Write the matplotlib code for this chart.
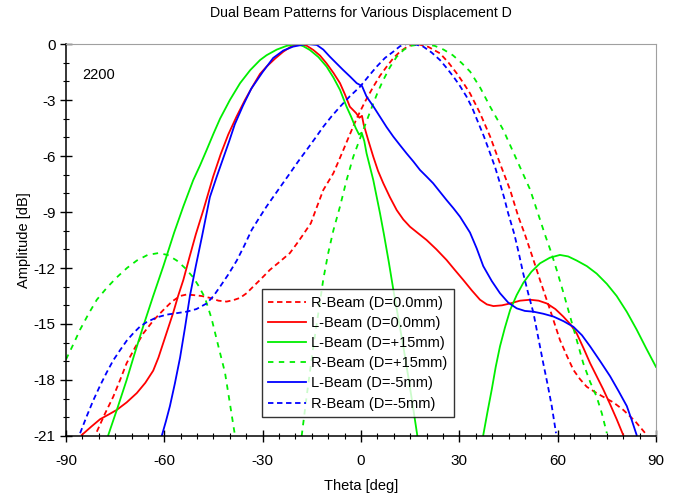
import numpy as np
import matplotlib
matplotlib.use("Agg")
import matplotlib.pyplot as plt
from matplotlib.ticker import MultipleLocator

plt.rcParams['font.family'] = ['Liberation Sans', 'DejaVu Sans']
plt.rcParams['axes.unicode_minus'] = False

nan = np.nan

# R-Beam (D=0.0mm), red dashed
r0_theta = [-80.6, -78.1, -75.6, -73.5, -71.5, -68.9, -66.4, -63.3, -60.3, -57.7,
            -55.2, -53.2, -51.2, -48.6, -46.1, -43.5, -41.0, -38.9, -36.9, -34.9,
            -32.9, -30.3, -27.8, -24.7, -21.7, -19.6, -18.0, -15.3, -13.4, -11.5,
            -8.45, -6.9, -5.4, -3.3, -1.3, 1.2, 3.75, 5.8, 7.85, 9.9,
            11.9, 14.5, 17.0, 20.5, 24.1, 26.7, 29.2, 31.2, 33.25, 36.3,
            39.4, 42.4, 45.5, 48.0, 50.0, 52.3, 54.6, 57.7, 60.7, 62.8,
            64.8, 66.8, 68.85, 71.4, 73.9, 77.0, 80.0, 83.6, 87.2]
r0_db = [-20.77, -19.8, -18.9, -18.0, -17.1, -16.25, -15.5, -14.8, -14.25, -13.8,
         -13.5, -13.42, -13.45, -13.5, -13.6, -13.75, -13.8, -13.72, -13.6, -13.35,
         -13.0, -12.55, -12.1, -11.65, -11.2, -10.7, -10.3, -9.6, -8.7, -7.82,
         -6.93, -6.3, -5.68, -4.8, -3.98, -3.1, -2.29, -1.7, -1.21, -0.75,
         -0.41, -0.1, 0.0, -0.15, -0.5, -1.0, -1.57, -2.08, -2.64, -3.7,
         -4.96, -6.4, -7.82, -9.25, -10.2, -11.4, -12.64, -14.25, -15.86, -16.7,
         -17.46, -17.95, -18.36, -18.65, -18.9, -19.2, -19.6, -20.2, -20.95]

# L-Beam (D=0.0mm), red solid
l0_theta = [-85.2, -82.3, -79.6, -77.0, -74.5, -71.5, -68.4, -65.8, -63.4, -61.8,
            -60.3, -58.8, -57.3, -55.8, -54.2, -52.3, -50.4, -48.1, -45.1, -42.8,
            -40.5, -38.0, -35.4, -33.0, -30.8, -28.8, -26.2, -23.7, -21.2, -18.6,
            -16.5, -14.55, -12.5, -10.5, -8.4, -6.4, -4.9, -3.4, -1.5, -0.5,
            0.3, 0.8, 2.2, 3.75, 5.2, 6.8, 8.8, 10.9, 12.9, 14.95,
            17.5, 20.0, 23.0, 26.1, 28.6, 31.2, 33.8, 36.3, 38.4, 40.4,
            43.0, 45.5, 48.5, 51.6, 54.2, 56.7, 59.3, 61.7, 63.8, 65.8,
            67.9, 69.9, 71.9, 73.9, 76.0, 78.0, 80.0]
l0_db = [-20.95, -20.5, -20.1, -19.85, -19.6, -19.2, -18.7, -18.15, -17.5, -16.8,
         -16.0, -15.2, -14.4, -13.5, -12.64, -11.4, -10.2, -8.9, -7.1, -5.9,
         -4.85, -3.9, -3.0, -2.25, -1.6, -1.21, -0.78, -0.41, -0.12, 0.0,
         -0.1, -0.32, -0.62, -1.04, -1.55, -2.1, -2.7, -3.36, -3.7, -3.95,
         -3.85, -4.3, -5.15, -6.04, -6.8, -7.46, -8.2, -8.9, -9.4, -9.79,
         -10.15, -10.5, -11.0, -11.57, -12.1, -12.64, -13.2, -13.7, -13.95, -14.04,
         -14.0, -13.9, -13.75, -13.7, -13.75, -13.9, -14.2, -14.6, -15.0, -15.5,
         -16.3, -17.1, -17.8, -18.5, -19.3, -20.1, -20.95]

# L-Beam (D=+15mm), green solid (main lobe, then right side lobe)
l15_theta = [-77.1, -74.3, -71.5, -69.0, -66.4, -63.4, -60.3, -57.0, -54.2, -51.2,
             -49.1, -47.1, -45.0, -43.0, -40.0, -36.9, -33.8, -30.8, -28.8, -25.7,
             -22.7, -19.6, -17.6, -15.6, -13.0, -10.5, -8.4, -6.4, -4.4, -3.0,
             -1.6, -0.6, 0.2, 1.0, 1.7, 3.75, 5.8, 7.0, 8.5, 9.9,
             11.4, 12.9, 14.5, 16.0, 17.2, nan,
             37.3, 38.6, 39.9, 41.1, 42.4, 43.9, 45.5, 47.5, 49.5, 52.0,
             54.6, 57.6, 60.7, 63.2, 65.8, 68.9, 71.9, 75.0, 78.0, 81.1,
             84.1, 87.0, 90.0]
l15_db = [-20.95, -19.5, -18.0, -16.55, -15.1, -13.5, -11.9, -10.1, -8.7, -7.3,
          -6.5, -5.68, -4.8, -4.0, -3.0, -2.1, -1.4, -0.86, -0.6, -0.3,
          -0.1, 0.0, -0.12, -0.32, -0.7, -1.21, -1.8, -2.46, -3.36, -3.9,
          -4.5, -4.85, -4.75, -5.2, -5.86, -7.29, -9.07, -10.2, -11.7, -13.2,
          -14.7, -16.2, -17.9, -19.6, -21.0, nan,
          -20.95, -19.7, -18.5, -17.3, -16.2, -15.2, -14.25, -13.45, -12.8, -12.2,
          -11.75, -11.45, -11.3, -11.38, -11.6, -11.9, -12.3, -12.85, -13.5, -14.35,
          -15.3, -16.3, -17.3]

# R-Beam (D=+15mm), green dashed (left side lobe, then main lobe)
r15_theta = [-90.0, -87.8, -85.7, -83.1, -80.6, -77.5, -74.5, -71.4, -68.4, -65.1,
             -61.8, -59.0, -56.2, -53.7, -51.2, -49.4, -47.6, -45.6, -43.5, -41.5,
             -40.0, -38.7, -38.4, nan,
             -18.1, -16.6, -14.55, -13.0, -11.5, -10.0, -8.45, -6.4, -4.4, -2.35,
             -0.8, 0.7, 2.2, 3.75, 5.3, 6.8, 8.8, 10.9, 13.0, 15.0,
             19.0, 22.5, 25.2, 28.0, 30.6, 33.3, 36.4, 39.4, 43.4, 47.5,
             51.6, 54.6, 56.1, 57.9, 59.7, 61.8, 63.8, 65.8, 67.8, 69.9,
             71.9, 73.5, 75.0]
r15_db = [-16.9, -16.1, -15.3, -14.45, -13.7, -13.05, -12.5, -12.0, -11.6, -11.3,
          -11.2, -11.3, -11.6, -12.0, -12.5, -13.0, -13.6, -14.7, -16.2, -17.6,
          -19.25, -20.7, -21.0, nan,
          -21.0, -18.9, -16.2, -14.4, -12.6, -11.2, -10.0, -8.7, -7.29, -6.04,
          -5.3, -4.6, -3.9, -3.18, -2.5, -1.93, -1.25, -0.68, -0.32, -0.1,
          0.0, -0.1, -0.3, -0.6, -1.0, -1.48, -2.35, -3.36, -4.6, -6.2,
          -7.8, -9.4, -10.2, -11.1, -12.1, -13.35, -14.6, -15.85, -17.1, -18.1,
          -18.9, -19.8, -20.85]

# L-Beam (D=-5mm), blue solid
lm5_theta = [-60.8, -59.5, -58.3, -56.8, -55.2, -53.7, -52.2, -50.4, -48.5, -46.1,
             -44.0, -42.0, -40.2, -38.5, -36.0, -33.5, -30.0, -26.8, -23.7, -20.7,
             -16.6, -13.5, -11.5, -9.5, -7.4, -5.4, -3.3, -1.3, 0.3, 1.7,
             3.8, 5.8, 7.8, 9.85, 11.9, 13.9, 16.0, 18.0, 20.0, 22.0,
             24.0, 26.1, 28.2, 30.2, 33.25, 35.3, 37.3, 39.9, 42.4, 44.9,
             47.5, 50.0, 52.6, 55.6, 58.7, 61.8, 64.8, 67.4, 69.9, 73.0,
             76.0, 78.6, 81.1, 82.6, 84.1]
lm5_db = [-21.0, -20.2, -19.4, -18.2, -16.8, -15.2, -13.5, -11.9, -10.3, -8.2,
          -7.1, -6.1, -5.2, -4.3, -3.3, -2.4, -1.5, -0.75, -0.35, -0.14,
          0.0, -0.05, -0.3, -0.68, -1.05, -1.4, -1.75, -2.1, -2.25, -2.82,
          -3.35, -3.9, -4.45, -4.96, -5.42, -5.86, -6.3, -6.75, -7.1, -7.46,
          -7.9, -8.36, -8.8, -9.25, -10.1, -10.95, -11.9, -12.7, -13.35, -13.85,
          -14.16, -14.3, -14.34, -14.45, -14.6, -14.85, -15.15, -15.6, -16.2, -17.0,
          -17.8, -18.6, -19.4, -20.15, -20.95]

# R-Beam (D=-5mm), blue dashed
rm5_theta = [-85.7, -83.7, -81.7, -79.6, -77.6, -75.6, -73.5, -71.5, -69.5, -67.5,
             -65.4, -62.4, -59.3, -56.3, -53.2, -50.2, -47.1, -45.0, -43.0, -40.5,
             -37.9, -35.6, -33.35, -31.0, -28.8, -25.2, -21.7, -19.2, -16.6, -14.0,
             -11.5, -9.0, -6.4, -3.4, -0.3, 2.2, 4.8, 7.3, 9.85, 11.9,
             13.9, 16.5, 19.0, 21.5, 24.1, 26.1, 28.2, 30.2, 32.2, 34.0,
             35.5, 37.5, 39.4, 41.0, 42.4, 43.7, 44.9, 46.8, 48.2, 49.5,
             51.0, 52.6, 54.1, 55.6, 57.0, 58.2, 59.5]
rm5_db = [-20.85, -19.95, -19.1, -18.3, -17.6, -16.95, -16.4, -15.9, -15.5, -15.15,
          -14.9, -14.65, -14.5, -14.42, -14.34, -14.2, -13.9, -13.5, -13.0, -12.35,
          -11.6, -10.8, -9.96, -9.3, -8.7, -7.8, -6.93, -6.3, -5.68, -5.05,
          -4.43, -3.88, -3.36, -2.8, -2.29, -1.75, -1.21, -0.75, -0.41, -0.12,
          0.0, -0.02, -0.14, -0.45, -0.86, -1.28, -1.75, -2.25, -2.82, -3.45,
          -4.1, -4.95, -5.86, -6.65, -7.46, -8.25, -9.07, -10.2, -11.25, -12.3,
          -13.35, -14.4, -15.75, -17.1, -18.3, -19.4, -20.85]

RED, GREEN, BLUE = "#ff0000", "#00ee00", "#0000ff"
DASH = (0, (3, 2))
GDASH = (0, (3, 3))

fig = plt.figure(figsize=(6.78, 5.0), dpi=100)
ax = fig.add_axes([66 / 678, 64 / 500, 590 / 678, 392 / 500])

lw = 1.3
ax.plot(r0_theta, r0_db, color=RED, lw=lw, ls=DASH, label="R-Beam (D=0.0mm)")
ax.plot(l0_theta, l0_db, color=RED, lw=lw, label="L-Beam (D=0.0mm)")
ax.plot(l15_theta, l15_db, color=GREEN, lw=lw, label="L-Beam (D=+15mm)")
ax.plot(r15_theta, r15_db, color=GREEN, lw=lw, ls=GDASH, label="R-Beam (D=+15mm)")
ax.plot(lm5_theta, lm5_db, color=BLUE, lw=lw, label="L-Beam (D=-5mm)")
ax.plot(rm5_theta, rm5_db, color=BLUE, lw=lw, ls=DASH, label="R-Beam (D=-5mm)")

ax.set_xlim(-90, 90)
ax.set_ylim(-21, 0)
ax.xaxis.set_major_locator(MultipleLocator(30))
ax.xaxis.set_minor_locator(MultipleLocator(5))
ax.yaxis.set_major_locator(MultipleLocator(3))
ax.yaxis.set_minor_locator(MultipleLocator(1))
ax.tick_params(which="major", direction="inout", length=8, width=1, labelsize=11)
ax.tick_params(which="minor", direction="inout", length=5, width=0.8)
ax.tick_params(axis="x", which="major", pad=9)
ax.tick_params(axis="y", which="major", pad=3.5)

for s in ("top", "right"):
    ax.spines[s].set_color("#a0a0a0")
for s in ("left", "bottom"):
    ax.spines[s].set_color("black")
    ax.spines[s].set_linewidth(1.1)

ax.set_xlabel("Theta [deg]", fontsize=10.5, labelpad=8)
ax.set_ylabel("Amplitude [dB]", fontsize=10.5, labelpad=2)
fig.text(361 / 678, 1 - 13 / 500, "Dual Beam Patterns for Various Displacement D",
         ha="center", va="center", fontsize=10.2)
ax.text(0.027, 0.92, "2200", transform=ax.transAxes, ha="left", va="center", fontsize=10.5)

leg = ax.legend(loc="lower left", bbox_to_anchor=(0.332, 0.048), borderaxespad=0,
                fontsize=10.5, frameon=True, fancybox=False, edgecolor="black",
                handlelength=2.6, handletextpad=0.35, labelspacing=0.42,
                borderpad=0.45)
leg.get_frame().set_linewidth(1.0)

fig.savefig("out.png", dpi=100, facecolor="white")
